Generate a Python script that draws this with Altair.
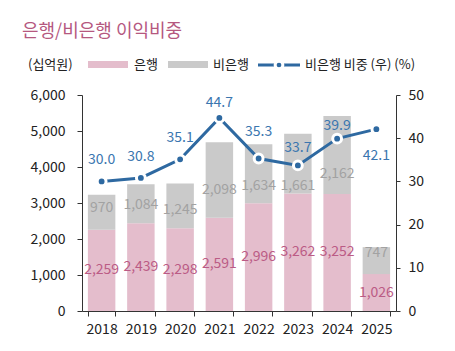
import altair as alt
import pandas as pd

years = ["2018", "2019", "2020", "2021", "2022", "2023", "2024", "2025"]
bank = [2259, 2439, 2298, 2591, 2996, 3262, 3252, 1026]
nonbank = [970, 1084, 1245, 2098, 1634, 1661, 2162, 747]
share = [30.0, 30.8, 35.1, 44.7, 35.3, 33.7, 39.9, 42.1]

# label anchor positions (layout only, in axis units)
nonbank_label_pos = [2860, 2940, 2800, 3360, 3470, 3470, 3800, 1610]
share_label_pos = [35.0, 35.6, 40.0, 48.1, 41.4, 37.7, 42.8, 35.9]

PINK = "#e4bdcc"
GRAY = "#cacaca"
PINK_T = "#bb5b85"
GRAY_T = "#a2a2a2"
BLUE = "#2e69a1"
BLUE_T = "#3a76af"
FONT = "Noto Sans CJK KR"

rows = []
for i, y in enumerate(years):
    rows.append({"year": y, "series": "은행", "value": bank[i], "ord": 0})
    rows.append({"year": y, "series": "비은행", "value": nonbank[i], "ord": 1})
bars_df = pd.DataFrame(rows)

wide = pd.DataFrame({
    "year": years,
    "bank": bank,
    "bank_mid": [b / 2 for b in bank],
    "nonbank": nonbank,
    "nb_pos": nonbank_label_pos,
    "share": share,
    "share_pos": share_label_pos,
})

x_axis = alt.Axis(title=None, labelAngle=0, tickBand="extent", tickSize=5,
                  labelPadding=6, labelFontSize=14, labelColor="#222",
                  domainColor="#333", tickColor="#333", labelFont=FONT)
x_scale = alt.Scale(paddingInner=0.3, paddingOuter=0.15)

def X():
    return alt.X("year:N", sort=years, scale=x_scale, axis=x_axis)

left_scale = alt.Scale(domain=[0, 6000], nice=False)
right_scale = alt.Scale(domain=[0, 50], nice=False)
left_axis = alt.Axis(title=None, values=[0, 1000, 2000, 3000, 4000, 5000, 6000],
                     format=",.0f", grid=False, tickSize=5, labelPadding=12,
                     labelFontSize=14, labelColor="#222", domainColor="#333",
                     tickColor="#333", labelFont=FONT)
right_axis = alt.Axis(title=None, orient="right", values=[0, 10, 20, 30, 40, 50],
                      format=".0f", grid=False, tickSize=4, labelPadding=8, labelFontSize=14,
                      labelColor="#222", domainColor="#333", tickColor="#333",
                      labelFont=FONT)

bars = alt.Chart(bars_df).mark_bar().encode(
    x=X(),
    y=alt.Y("value:Q", stack="zero", scale=left_scale, axis=left_axis),
    color=alt.Color("series:N", scale=alt.Scale(domain=["은행", "비은행"], range=[PINK, GRAY]),
                    legend=None),
    order=alt.Order("ord:Q"),
)

bank_txt = alt.Chart(wide).mark_text(fontSize=14, color=PINK_T, baseline="middle", font=FONT).encode(
    x=X(),
    y=alt.Y("bank_mid:Q", scale=left_scale, axis=left_axis),
    text=alt.Text("bank:Q", format=","),
)
nb_txt = alt.Chart(wide).mark_text(fontSize=14, color=GRAY_T, baseline="middle", font=FONT).encode(
    x=X(),
    y=alt.Y("nb_pos:Q", scale=left_scale, axis=left_axis),
    text=alt.Text("nonbank:Q", format=","),
)
left = alt.layer(bars, bank_txt, nb_txt)

line = alt.Chart(wide).mark_line(color=BLUE, strokeWidth=3).encode(
    x=X(),
    y=alt.Y("share:Q", scale=right_scale, axis=right_axis),
)
pts = alt.Chart(wide).mark_point(filled=True, fill=BLUE, stroke="white", strokeWidth=3,
                                 size=78, opacity=1).encode(
    x=X(),
    y=alt.Y("share:Q", scale=right_scale, axis=right_axis),
)
share_txt = alt.Chart(wide).mark_text(fontSize=14, color=BLUE_T, baseline="middle", font=FONT).encode(
    x=X(),
    y=alt.Y("share_pos:Q", scale=right_scale, axis=right_axis),
    text=alt.Text("share:Q", format=".1f"),
)
right = alt.layer(line, pts, share_txt)

one = pd.DataFrame({"k": [0]})

def label(txt, x, y, size=13, color="#222"):
    return alt.Chart(one).mark_text(align="left", baseline="middle", fontSize=size,
                                    color=color, font=FONT).encode(
        x=alt.value(x), y=alt.value(y), text=alt.value(txt))

title = label("은행/비은행 이익비중", -60, -63, size=18, color="#b5587f")
unit = label("(십억원)", -54, -30)
lg_bank_r = alt.Chart(one).mark_rect(color=PINK).encode(
    x=alt.value(6), x2=alt.value(46), y=alt.value(-34), y2=alt.value(-27))
lg_bank_t = label("은행", 52, -30)
lg_nb_r = alt.Chart(one).mark_rect(color=GRAY).encode(
    x=alt.value(86), x2=alt.value(126), y=alt.value(-34), y2=alt.value(-27))
lg_nb_t = label("비은행", 131, -30)
lg_line = alt.Chart(one).mark_rule(color=BLUE, strokeWidth=3).encode(
    x=alt.value(176), x2=alt.value(218), y=alt.value(-30))
lg_gap = alt.Chart(one).mark_point(filled=True, fill=BLUE, stroke="white", strokeWidth=3,
                                   size=60, opacity=1).encode(
    x=alt.value(197), y=alt.value(-30))
lg_share_t = label("비은행 비중 (우) (%)", 223, -30)

main = alt.layer(left, right).resolve_scale(y="independent")

chart = alt.layer(
    main, title, unit, lg_bank_r, lg_bank_t, lg_nb_r, lg_nb_t, lg_line, lg_gap, lg_share_t
).properties(
    width=314, height=216,
    autosize=alt.AutoSizeParams(type="none"),
    padding={"left": 82, "top": 95, "right": 59, "bottom": 40},
).configure(font=FONT).configure_view(stroke=None)

chart.save("out.html", embed_options={"renderer": "svg", "actions": False})
